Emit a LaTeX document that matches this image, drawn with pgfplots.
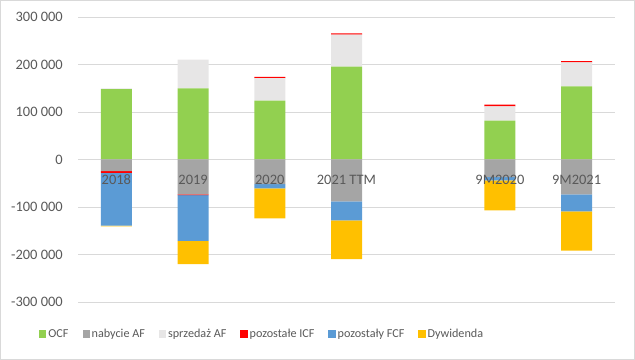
\documentclass[border=0pt]{standalone}
\usepackage{pgfplots}
\pgfplotsset{compat=1.18}
\usepackage{fontspec}
\setmainfont{Carlito}
\definecolor{cOCF}{HTML}{92D050}
\definecolor{cNab}{HTML}{A5A5A5}
\definecolor{cSprz}{HTML}{E7E6E6}
\definecolor{cICF}{HTML}{FF0000}
\definecolor{cFCF}{HTML}{5B9BD5}
\definecolor{cDyw}{HTML}{FFC000}
\definecolor{txt}{HTML}{595959}
\definecolor{gridc}{HTML}{D9D9D9}
\begin{document}
\begin{tikzpicture}
\pgfplotsset{
  common/.style={
    scale only axis, width=537bp, height=285bp,
    at={(78bp,58bp)}, anchor=south west,
    xmin=-0.5, xmax=6.5, ymin=-300000, ymax=300000,
    ybar stacked, bar width=31bp,
    axis line style={draw=none}, major tick length=0pt,
    every axis plot/.append style={draw=none},
    /pgf/number format/fixed,
    /pgf/number format/1000 sep={\ },
    /pgf/number format/assume math mode=true,
  }
}
% positive parts
\begin{axis}[common,
  xtick=\empty,
  ytick={-300000,-200000,-100000,0,100000,200000,300000},
  scaled y ticks=false,
  ymajorgrids, grid style={draw=gridc, line width=0.9bp},
  y tick label style={font=\fontsize{14.5}{16}\selectfont, text=txt, inner sep=0pt, anchor=east, xshift=-15bp},
]
\addplot[fill=cOCF] coordinates {(0,148000) (1,149500) (2,124000) (3,195500) (5,82000) (6,154000)};
\addplot[fill=cSprz] coordinates {(0,1500) (1,61000) (2,47500) (3,67500) (5,30000) (6,50500)};
\addplot[fill=cICF] coordinates {(0,0) (1,0) (2,2500) (3,2500) (5,3500) (6,2500)};
\end{axis}
% negative parts
\begin{axis}[common,
  hide x axis, hide y axis,
  legend columns=6,
  legend style={at={(-0.0726,-0.1123)}, anchor=west, draw=none, fill=none, inner sep=0pt,
    font=\fontsize{12.2}{14}\selectfont, text=txt,
    /tikz/every even column/.append style={column sep=12bp}},
  legend image code/.code={\fill[#1] (0bp,-3.6bp) rectangle (7.2bp,3.6bp);},
]
\addlegendimage{fill=cOCF}\addlegendentry{OCF}
\addlegendimage{fill=cNab}\addlegendentry{nabycie AF}
\addlegendimage{fill=cSprz}\addlegendentry{sprzedaż AF}
\addlegendimage{fill=cICF}\addlegendentry{pozostałe ICF}
\addlegendimage{fill=cFCF}\addlegendentry{pozostały FCF}
\addlegendimage{fill=cDyw}\addlegendentry{Dywidenda}
\addplot[fill=cNab, forget plot] coordinates {(0,-24500) (1,-73500) (2,-52000) (3,-88000) (5,-37000) (6,-73500)};
\addplot[fill=cICF, forget plot] coordinates {(0,-3500) (1,-1500) (2,0) (3,0) (5,0) (6,0)};
\addplot[fill=cFCF, forget plot] coordinates {(0,-111000) (1,-96500) (2,-9000) (3,-40000) (5,-7000) (6,-35500)};
\addplot[fill=cDyw, forget plot] coordinates {(0,-2000) (1,-49000) (2,-63000) (3,-82000) (5,-63000) (6,-83000)};
\end{axis}
% category labels on top, at the zero line
\begin{axis}[common,
  axis x line=middle, axis y line=none,
  ytick=\empty,
  xtick={0,1,2,3,5,6},
  xticklabels={2018,2019,2020,2021 TTM,9M2020,9M2021},
  x tick label style={font=\fontsize{14.5}{16}\selectfont, text=txt, inner sep=0pt, anchor=north, yshift=-15bp},
]
\end{axis}
\draw[gridc, line width=1bp] (0.5bp,0.5bp) rectangle (634.5bp,359.5bp);
\end{tikzpicture}
\end{document}
